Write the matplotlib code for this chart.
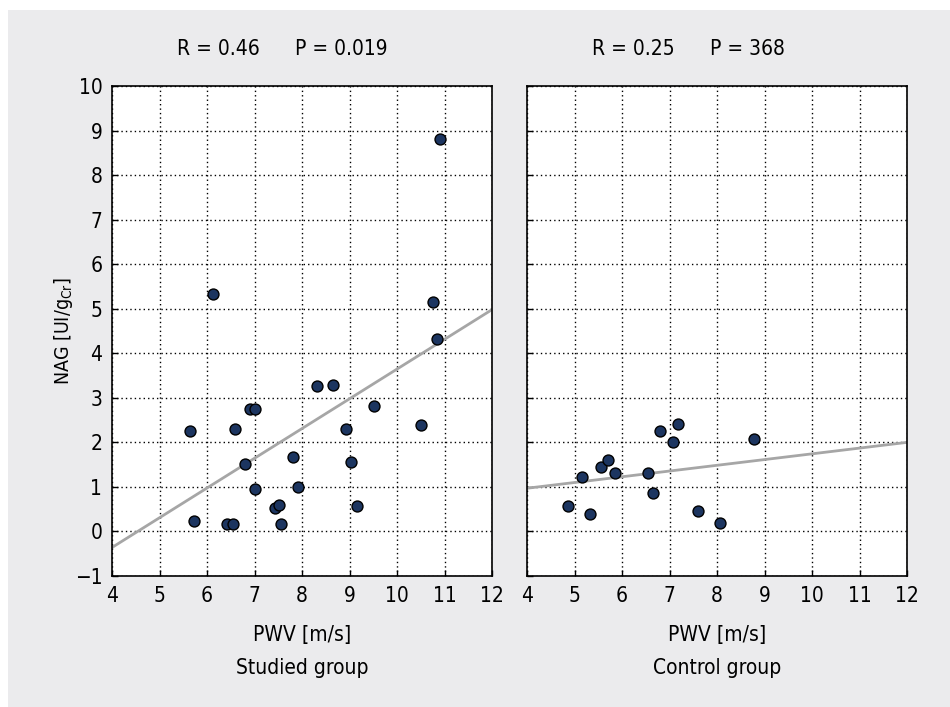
import numpy as np
import matplotlib
matplotlib.use('Agg')
from matplotlib import pyplot as plt
from matplotlib import font_manager
from matplotlib.patches import Rectangle

# narrow font if there is one, else condensed DejaVu
names = {f.name for f in font_manager.fontManager.ttflist}
if 'Liberation Sans Narrow' in names:
    plt.rcParams['font.family'] = ['Liberation Sans Narrow', 'DejaVu Sans']
    plt.rcParams['mathtext.rm'] = 'Liberation Sans Narrow'
else:
    plt.rcParams['font.family'] = ['DejaVu Sans']
    plt.rcParams['font.stretch'] = 'condensed'
    plt.rcParams['mathtext.rm'] = 'DejaVu Sans:stretch=condensed'
plt.rcParams['mathtext.fontset'] = 'custom'

# studied group
studied_pwv = [10.90, 6.13, 10.76, 10.84, 8.32, 8.65, 6.91, 7.02, 9.52, 5.64, 6.58, 8.92, 10.51,
               7.80, 9.03, 6.81, 7.02, 7.92, 7.43, 7.52, 9.15, 5.73, 6.43, 6.54, 7.55]
studied_nag = [8.80, 5.34, 5.14, 4.32, 3.27, 3.28, 2.75, 2.75, 2.82, 2.25, 2.29, 2.29, 2.38,
               1.68, 1.57, 1.51, 0.96, 0.99, 0.53, 0.59, 0.58, 0.24, 0.16, 0.16, 0.16]
studied_fit_x = [4, 12]
studied_fit_y = [-0.36, 4.98]

# control group
control_pwv = [4.86, 5.15, 5.33, 5.55, 5.70, 5.85, 6.55, 6.66, 6.79, 7.08, 7.17, 7.59, 8.06, 8.77]
control_nag = [0.57, 1.22, 0.39, 1.44, 1.61, 1.31, 1.31, 0.86, 2.25, 2.01, 2.42, 0.45, 0.19, 2.07]
control_fit_x = [4, 12]
control_fit_y = [0.97, 2.00]

W, H = 950, 707
fig = plt.figure(figsize=(W / 100, H / 100), dpi=100, facecolor='white')
fig.patches.append(Rectangle((8 / W, 0), 1, 1 - 10 / H, transform=fig.transFigure,
                             facecolor='#ebebed', edgecolor='none', zorder=-10))

ax1 = fig.add_axes([112 / W, 1 - 576 / H, 380 / W, 490 / H])
ax2 = fig.add_axes([527 / W, 1 - 576 / H, 380 / W, 490 / H])

panels = [
    (ax1, studied_pwv, studied_nag, studied_fit_x, studied_fit_y, 'Studied group'),
    (ax2, control_pwv, control_nag, control_fit_x, control_fit_y, 'Control group'),
]

for ax, x, y, fx, fy, name in panels:
    ax.set_facecolor('white')
    ax.plot(fx, fy, color='#a6a6a6', lw=2, zorder=2)
    ax.scatter(x, y, s=62, color='#1c3560', edgecolors='black', linewidths=1, zorder=3)
    ax.set_xlim(4, 12)
    ax.set_ylim(-1, 10)
    ax.set_xticks(range(4, 13))
    ax.set_yticks(range(-1, 11))
    ax.grid(True, linestyle=(0, (1, 2.2)), color='black', lw=1)
    ax.set_axisbelow(True)
    ax.tick_params(direction='in', length=4, width=1, labelsize=15, pad=7, colors='black')
    for s in ax.spines.values():
        s.set_linewidth(1.2)
    ax.set_xlabel('PWV [m/s]', fontsize=15, labelpad=14)
    cx = (ax.get_position().x0 + ax.get_position().x1) / 2
    fig.text(cx, 1 - 668 / H, name, ha='center', va='center', fontsize=15)

ax1.set_ylabel(r'NAG [UI/g$_{\mathrm{Cr}}$]', fontsize=14)
ax1.yaxis.set_label_coords(-0.097, 0.5)
ax2.tick_params(labelleft=False)

fig.text(177 / W, 1 - 49 / H, 'R = 0.46', ha='left', va='center', fontsize=15)
fig.text(295 / W, 1 - 49 / H, 'P = 0.019', ha='left', va='center', fontsize=15)
fig.text(592 / W, 1 - 49 / H, 'R = 0.25', ha='left', va='center', fontsize=15)
fig.text(710 / W, 1 - 49 / H, 'P = 368', ha='left', va='center', fontsize=15)

fig.savefig('out.png', dpi=100)
